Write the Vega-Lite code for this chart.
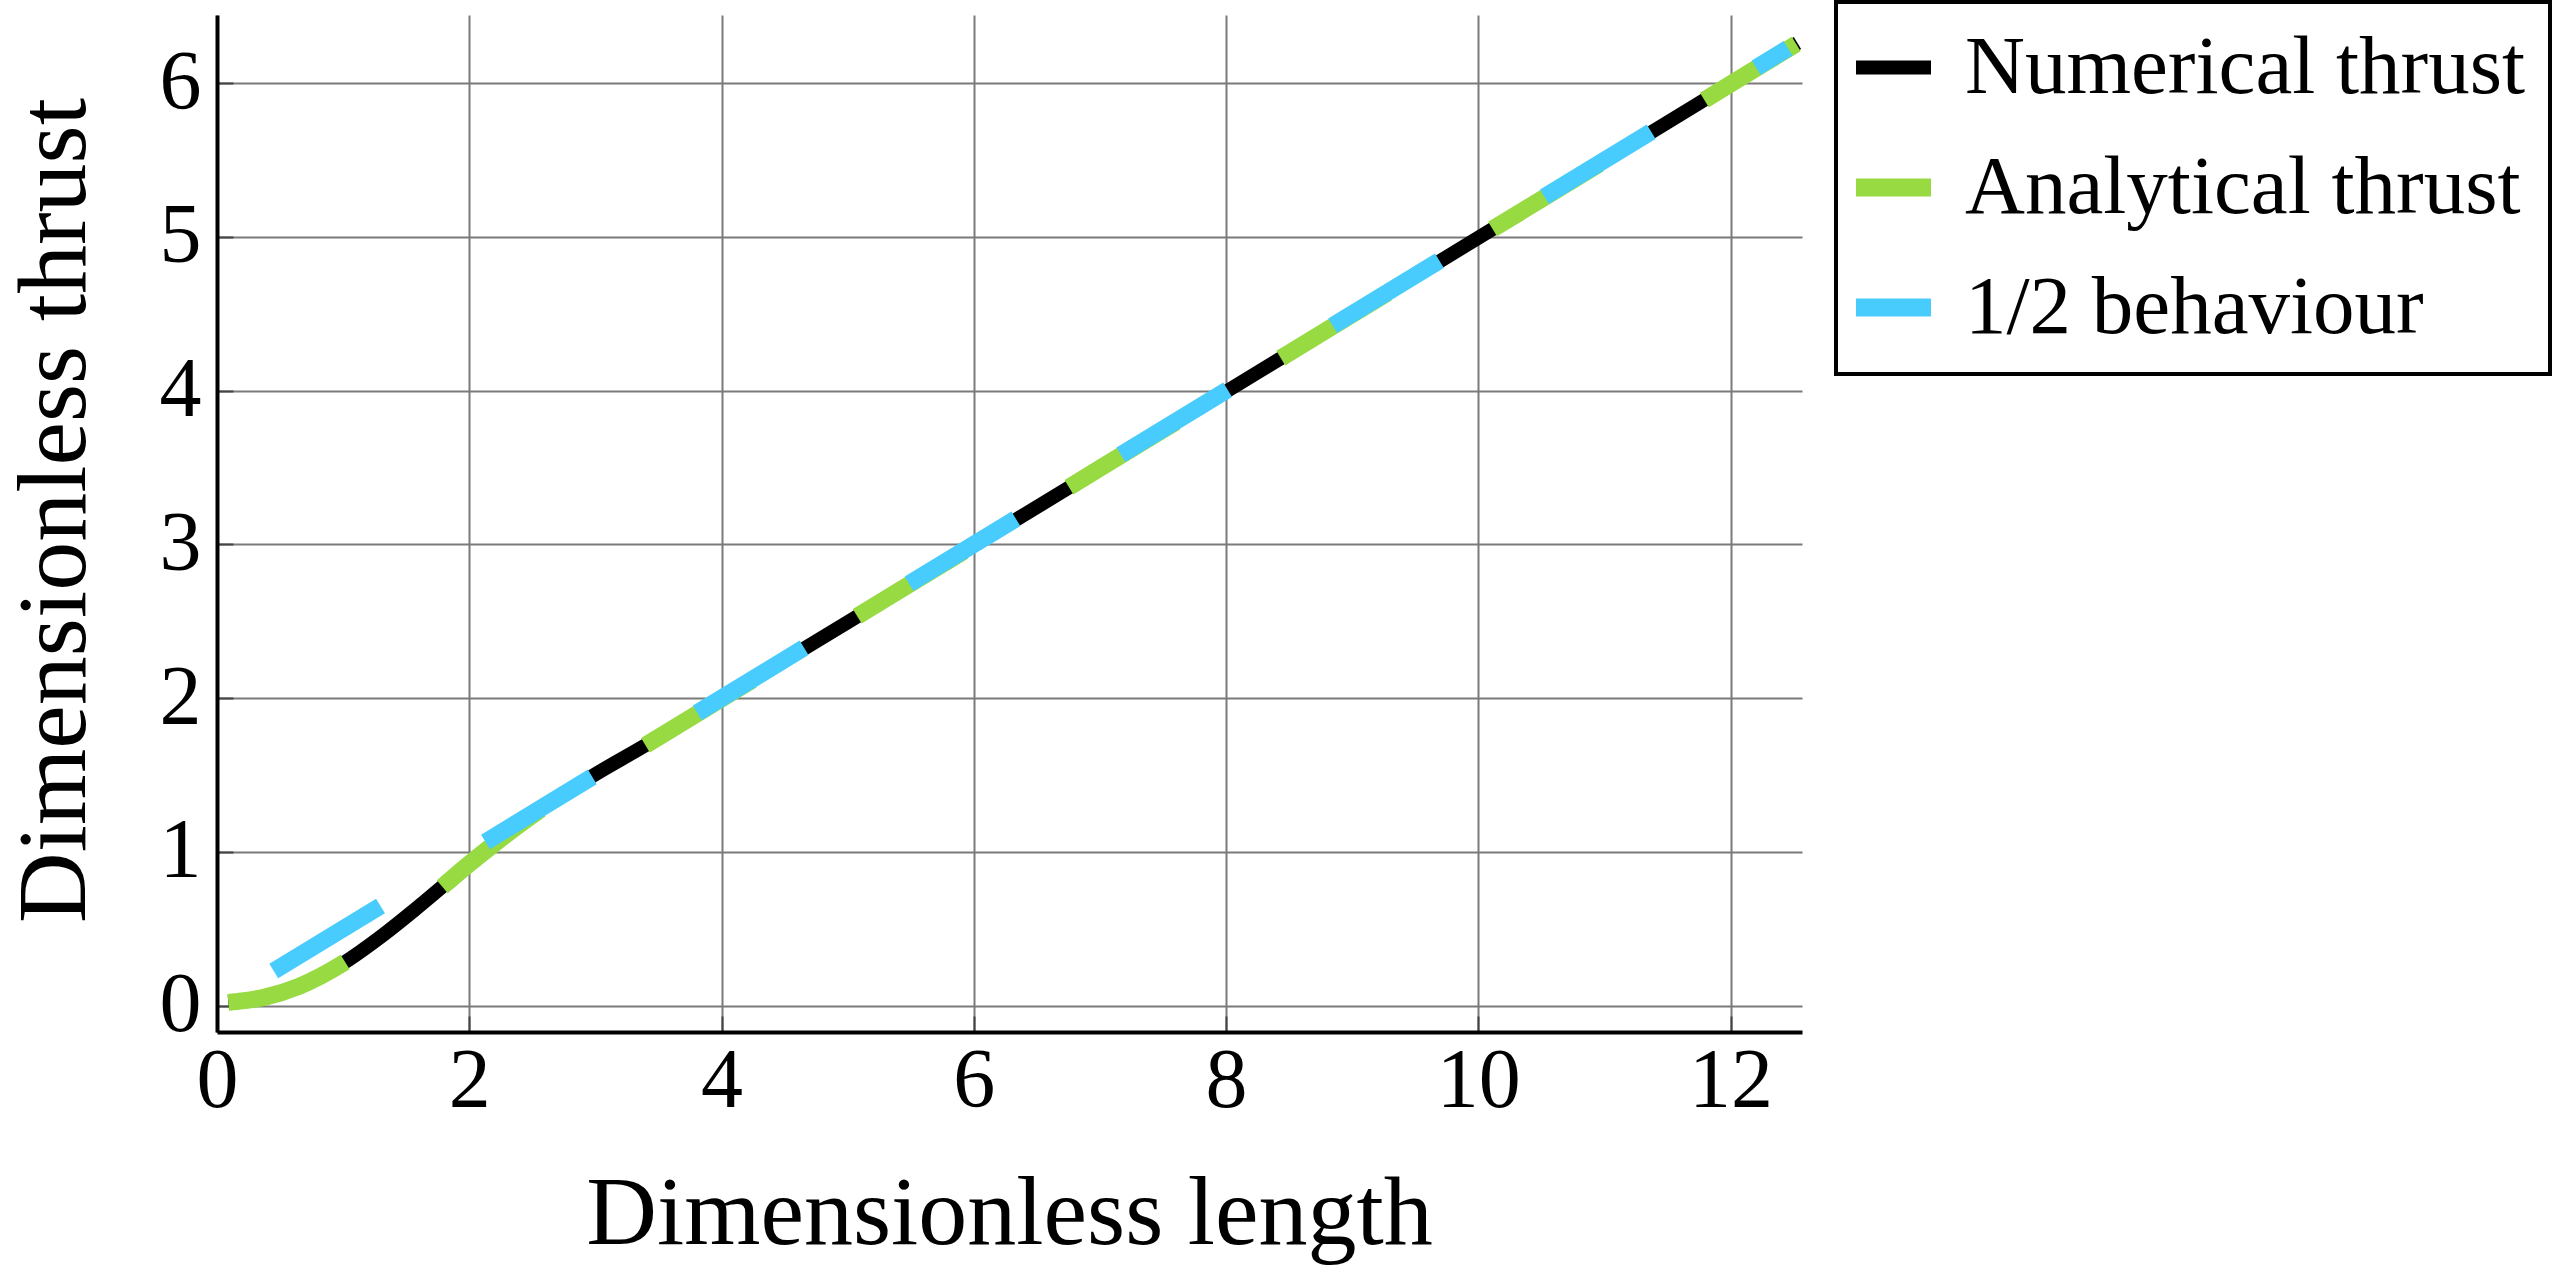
{
  "$schema": "https://vega.github.io/schema/vega-lite/v6.json",
  "autosize": {"type": "none"},
  "width": 1585,
  "height": 1017,
  "padding": {"left": 217, "top": 15, "right": 756, "bottom": 242},
  "background": "white",
  "datasets": {
    "numerical": [
      {"series": "Numerical thrust", "x": 0.09, "y": 0.02},
      {"series": "Numerical thrust", "x": 0.2, "y": 0.03},
      {"series": "Numerical thrust", "x": 0.38, "y": 0.055},
      {"series": "Numerical thrust", "x": 0.65, "y": 0.125},
      {"series": "Numerical thrust", "x": 0.99, "y": 0.27},
      {"series": "Numerical thrust", "x": 1.31, "y": 0.455},
      {"series": "Numerical thrust", "x": 1.57, "y": 0.625},
      {"series": "Numerical thrust", "x": 1.81, "y": 0.79},
      {"series": "Numerical thrust", "x": 1.99, "y": 0.915},
      {"series": "Numerical thrust", "x": 2.18, "y": 1.04},
      {"series": "Numerical thrust", "x": 2.42, "y": 1.19},
      {"series": "Numerical thrust", "x": 2.6, "y": 1.295},
      {"series": "Numerical thrust", "x": 2.97, "y": 1.49},
      {"series": "Numerical thrust", "x": 3.4, "y": 1.695},
      {"series": "Numerical thrust", "x": 3.82, "y": 1.905},
      {"series": "Numerical thrust", "x": 4.5, "y": 2.245},
      {"series": "Numerical thrust", "x": 5.0, "y": 2.493},
      {"series": "Numerical thrust", "x": 6.0, "y": 2.993},
      {"series": "Numerical thrust", "x": 7.0, "y": 3.493},
      {"series": "Numerical thrust", "x": 8.0, "y": 3.994},
      {"series": "Numerical thrust", "x": 9.0, "y": 4.494},
      {"series": "Numerical thrust", "x": 10.0, "y": 4.995},
      {"series": "Numerical thrust", "x": 11.0, "y": 5.495},
      {"series": "Numerical thrust", "x": 12.0, "y": 5.996},
      {"series": "Numerical thrust", "x": 12.53, "y": 6.262}
    ],
    "analytical": [
      {"series": "Analytical thrust", "x": 0.09, "y": 0.02},
      {"series": "Analytical thrust", "x": 0.2, "y": 0.03},
      {"series": "Analytical thrust", "x": 0.38, "y": 0.055},
      {"series": "Analytical thrust", "x": 0.65, "y": 0.125},
      {"series": "Analytical thrust", "x": 0.99, "y": 0.27},
      {"series": "Analytical thrust", "x": 1.31, "y": 0.455},
      {"series": "Analytical thrust", "x": 1.57, "y": 0.625},
      {"series": "Analytical thrust", "x": 1.81, "y": 0.79},
      {"series": "Analytical thrust", "x": 1.99, "y": 0.915},
      {"series": "Analytical thrust", "x": 2.18, "y": 1.04},
      {"series": "Analytical thrust", "x": 2.42, "y": 1.19},
      {"series": "Analytical thrust", "x": 2.6, "y": 1.295},
      {"series": "Analytical thrust", "x": 2.97, "y": 1.49},
      {"series": "Analytical thrust", "x": 3.4, "y": 1.695},
      {"series": "Analytical thrust", "x": 3.82, "y": 1.905},
      {"series": "Analytical thrust", "x": 4.5, "y": 2.245},
      {"series": "Analytical thrust", "x": 5.0, "y": 2.495},
      {"series": "Analytical thrust", "x": 6.0, "y": 2.995},
      {"series": "Analytical thrust", "x": 7.0, "y": 3.495},
      {"series": "Analytical thrust", "x": 8.0, "y": 3.995},
      {"series": "Analytical thrust", "x": 9.0, "y": 4.495},
      {"series": "Analytical thrust", "x": 10.0, "y": 4.995},
      {"series": "Analytical thrust", "x": 11.0, "y": 5.495},
      {"series": "Analytical thrust", "x": 12.0, "y": 5.995},
      {"series": "Analytical thrust", "x": 12.52, "y": 6.255}
    ],
    "behaviour": [
      {"series": "1/2 behaviour", "x": 0.45, "y": 0.225},
      {"series": "1/2 behaviour", "x": 12.455, "y": 6.2275}
    ]
  },
  "encoding": {
    "x": {
      "field": "x",
      "type": "quantitative",
      "scale": {"domain": [0, 12.566], "nice": false, "zero": false},
      "axis": {
        "values": [0, 2, 4, 6, 8, 10, 12],
        "title": "Dimensionless length",
        "grid": true,
        "tickSize": -16,
        "labelPadding": 24,
        "labelFlush": false,
        "titleY": 211,
        "titleX": 792,
        "titleAlign": "center",
        "titleBaseline": "alphabetic"
      }
    },
    "y": {
      "field": "y",
      "type": "quantitative",
      "scale": {"domain": [-0.172, 6.444], "nice": false, "zero": false},
      "axis": {
        "values": [0, 1, 2, 3, 4, 5, 6],
        "title": "Dimensionless thrust",
        "grid": true,
        "tickSize": -16,
        "labelPadding": 32,
        "labelFlush": false,
        "titleAngle": -90,
        "titleX": -133,
        "titleY": 495,
        "titleAlign": "center",
        "titleBaseline": "alphabetic"
      }
    },
    "color": {
      "field": "series",
      "type": "nominal",
      "scale": {
        "domain": ["Numerical thrust", "Analytical thrust", "1/2 behaviour"],
        "range": ["#000000", "#97DA42", "#48CBFD"]
      },
      "legend": {
        "title": null,
        "orient": "none",
        "legendX": 1619,
        "legendY": -13,
        "symbolType": "stroke",
        "symbolSize": 5625,
        "symbolStrokeWidth": 17,
        "symbolOffset": -8,
        "labelFont": "Liberation Serif",
        "labelFontSize": 83,
        "labelColor": "#000000",
        "labelOffset": 30,
        "labelLimit": 1000,
        "padding": 24,
        "rowPadding": 36,
        "strokeColor": "#000000",
        "fillColor": "#ffffff",
        "encode": {
          "legend": {"update": {"strokeWidth": {"value": 4}}},
          "symbols": {"update": {"strokeWidth": {"signal": "datum.value === 'Numerical thrust' ? 14 : 18"}}}
        }
      }
    }
  },
  "layer": [
    {
      "data": {"name": "numerical"},
      "mark": {"type": "line", "interpolate": "monotone", "strokeWidth": 14, "strokeCap": "butt"}
    },
    {
      "data": {"name": "analytical"},
      "mark": {"type": "line", "interpolate": "monotone", "strokeWidth": 17, "strokeCap": "butt", "strokeDash": [125, 123]}
    },
    {
      "data": {"name": "behaviour"},
      "mark": {"type": "line", "strokeWidth": 17, "strokeCap": "butt", "strokeDash": [125, 123]}
    }
  ],
  "config": {
    "view": {"stroke": null},
    "font": "Liberation Serif",
    "axis": {
      "labelFont": "Liberation Serif",
      "labelFontSize": 84,
      "labelColor": "#000000",
      "titleFont": "Liberation Serif",
      "titleFontSize": 98,
      "titleFontWeight": "normal",
      "titleColor": "#000000",
      "domainColor": "#000000",
      "domainWidth": 4,
      "tickColor": "#444444",
      "tickWidth": 2,
      "gridColor": "#7a7a7a",
      "gridWidth": 2,
      "gridOpacity": 1
    }
  }
}
